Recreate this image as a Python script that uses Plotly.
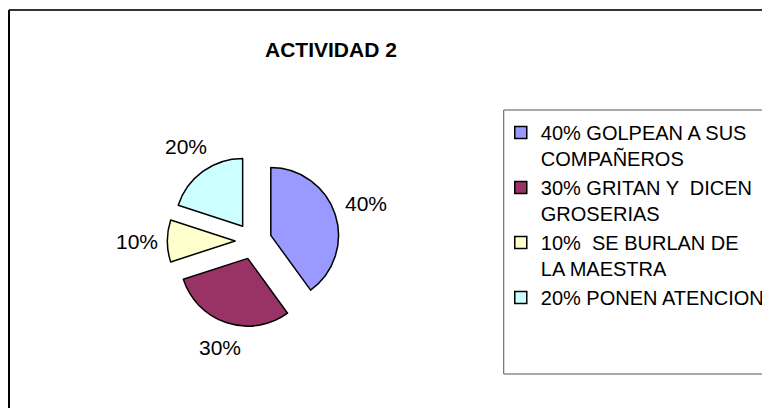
import math
import plotly.graph_objects as go

# datos
categorias = ["40% GOLPEAN A SUS<br>COMPAÑEROS",
              "30% GRITAN Y  DICEN<br>GROSERIAS",
              "10%  SE BURLAN DE<br>LA MAESTRA",
              "20% PONEN ATENCION"]
valores = [40, 30, 10, 20]
colores = ["#9999FF", "#993366", "#FFFFCC", "#CCFFFF"]

OFF = 8  # margen del body de la pagina
W, H = 770 - OFF, 408 - OFF
fuente = "Liberation Sans, Arial, sans-serif"
tam = 21


def px(x):
    return (x - OFF) / W


def py(y):
    return 1 - (y - OFF) / H


# geometria del pastel
cx, cy, radio, tirar = 258, 241, 69, 0.27
medio = radio * (1 + tirar)

fig = go.Figure(go.Pie(
    labels=categorias,
    values=valores,
    sort=False,
    direction="clockwise",
    rotation=0,
    pull=[tirar] * len(valores),
    marker=dict(colors=colores, line=dict(color="black", width=1.5)),
    textinfo="none",
    domain=dict(x=[px(cx - medio), px(cx + medio)], y=[py(cy + medio), py(cy - medio)]),
))

# etiquetas de porcentaje fuera de cada porcion (como en Excel)
total = sum(valores)
acum = 0
etiquetas = []
for v in valores:
    ang = math.radians((acum + v / 2) / total * 360)
    acum += v
    ux, uy = math.sin(ang), -math.cos(ang)
    d = medio + 10 + abs(ux) * 21 + abs(uy) * 8
    etiquetas.append(dict(
        text=f"{v / total:.0%}", x=px(cx + d * ux), y=py(cy + d * uy),
        xref="paper", yref="paper", showarrow=False,
        xanchor="center", yanchor="middle",
        font=dict(size=tam, family=fuente, color="black")))

fig.update_layout(
    width=W, height=H,
    margin=dict(l=0, r=0, t=0, b=0),
    paper_bgcolor="white",
    font=dict(family=fuente, size=tam, color="black"),
    showlegend=True,
    legend=dict(x=px(510), y=py(113), xanchor="left", yanchor="top",
                valign="top", borderwidth=0, bgcolor="rgba(0,0,0,0)",
                font=dict(size=20, family=fuente)),
    annotations=[dict(text="<b>ACTIVIDAD 2</b>", x=px(337), y=py(50),
                      xref="paper", yref="paper", showarrow=False,
                      xanchor="center", yanchor="middle",
                      font=dict(size=tam, family=fuente))] + etiquetas,
    shapes=[
        # marco del area del grafico
        dict(type="line", xref="paper", yref="paper", x0=px(9), x1=1.05,
             y0=py(10), y1=py(10), line=dict(color="#333333", width=2)),
        dict(type="line", xref="paper", yref="paper", x0=px(9), x1=px(9),
             y0=py(10), y1=-0.05, line=dict(color="black", width=2)),
        # cuadro de la leyenda
        dict(type="rect", xref="paper", yref="paper", x0=px(513), x1=1.05,
             y0=py(374), y1=py(110), line=dict(color="#555555", width=1)),
    ],
)

fig.write_html("out.html")
